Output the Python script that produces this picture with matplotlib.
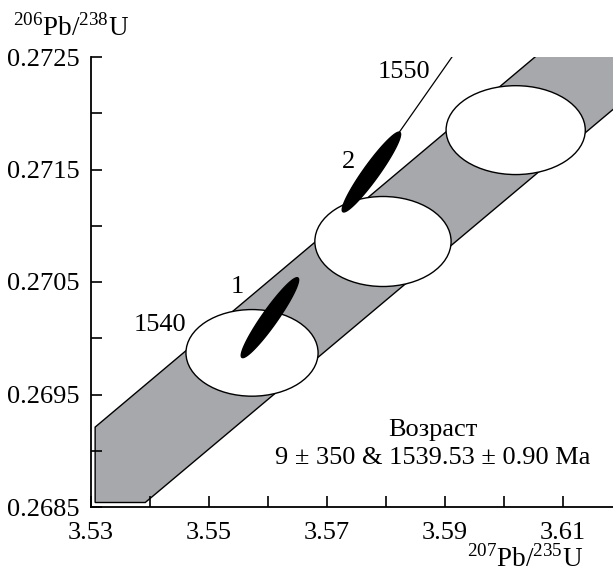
import numpy as np
import matplotlib.pyplot as plt
from matplotlib.patches import Ellipse, Polygon

plt.rcParams['font.family'] = ['Liberation Serif', 'DejaVu Serif']
plt.rcParams['mathtext.fontset'] = 'custom'
plt.rcParams['mathtext.rm'] = 'Liberation Serif'

# concordia band outline (207Pb/235U, 206Pb/238U)
band_x = [3.5307, 3.5307, 3.6250, 3.6250, 3.5392]
band_y = [0.26854, 0.26921, 0.27337, 0.27232, 0.26854]

# white ellipses on the band
age_x = [3.5573, 3.5795, 3.6020]
age_y = [0.26987, 0.27086, 0.27185]
age_w = [0.0224, 0.0231, 0.0236]
age_h = [0.00077, 0.00080, 0.00079]

# analyses 1 and 2: ends of the long axis of each error ellipse
pt_labels = ['1', '2']
pt_x0 = [3.55559, 3.57271]
pt_y0 = [0.269830, 0.271125]
pt_x1 = [3.56508, 3.58237]
pt_y1 = [0.270536, 0.271830]
pt_lab_x = [3.5548, 3.5736]
pt_lab_y = [0.27046, 0.27157]

# line above analysis 2 with its age marks
line_x = [3.57754, 3.5912]
line_y = [0.271478, 0.2725]
age_marks = ['1540', '1550']
mark_x = [3.5417, 3.5831]
mark_y = [0.27012, 0.27237]

xlim = (3.53, 3.6185)
ylim = (0.2685, 0.2725)
yticks = [0.2685, 0.2695, 0.2705, 0.2715, 0.2725]
yminor = [0.2690, 0.2700, 0.2710, 0.2720]
xticks = [3.53, 3.55, 3.57, 3.59, 3.61]
xminor = [3.54, 3.56, 3.58, 3.60]

FS = 19
W, H = 613, 575
fig = plt.figure(figsize=(W / 100, H / 100), dpi=100)
ax = fig.add_axes([91 / W, 68 / H, 522 / W, 450 / H])
ax.set_xlim(*xlim)
ax.set_ylim(*ylim)

# pixels per data unit, so the dark ellipses keep their shape
sx = 522 / (xlim[1] - xlim[0])
sy = 450 / (ylim[1] - ylim[0])

ax.add_patch(Polygon(np.column_stack([band_x, band_y]), closed=True,
                     facecolor='#a7a8ab', edgecolor='black', lw=1.0, zorder=1))

ax.plot(line_x, line_y, color='black', lw=0.9, zorder=2)

for x, y, w, h in zip(age_x, age_y, age_w, age_h):
    ax.add_patch(Ellipse((x, y), w, h, facecolor='white', edgecolor='black',
                         lw=1.0, zorder=3))

t = np.linspace(0, 2 * np.pi, 200)
for x0, y0, x1, y1 in zip(pt_x0, pt_y0, pt_x1, pt_y1):
    cx, cy = (x0 + x1) / 2, (y0 + y1) / 2
    ux, uy = (x1 - x0) / 2, (y1 - y0) / 2
    ratio = 0.16
    vx, vy = -uy * sy / sx * ratio, ux * sx / sy * ratio
    ex = cx + np.cos(t) * ux + np.sin(t) * vx
    ey = cy + np.cos(t) * uy + np.sin(t) * vy
    ax.fill(ex, ey, color='black', zorder=4)

for lab, x, y in zip(pt_labels, pt_lab_x, pt_lab_y):
    ax.text(x, y, lab, fontsize=FS, ha='center', va='center', zorder=5)
for lab, x, y in zip(age_marks, mark_x, mark_y):
    ax.text(x, y, lab, fontsize=FS, ha='center', va='center', zorder=5)

ax.text(3.588, 0.26906, 'Возраст\n9 ± 350 & 1539.53 ± 0.90 Ma', fontsize=FS,
        ha='center', va='center', linespacing=1.3, zorder=5)

for s in ['top', 'right']:
    ax.spines[s].set_visible(False)
for s in ['left', 'bottom']:
    ax.spines[s].set_linewidth(1.3)

ax.set_yticks(yticks)
ax.set_yticklabels([f'{v:.4f}' for v in yticks])
ax.set_yticks(yminor, minor=True)
ax.set_xticks(xticks)
ax.set_xticklabels([f'{v:.2f}' for v in xticks])
ax.set_xticks(xminor, minor=True)
ax.tick_params(which='both', direction='in', length=8, width=1.2)
ax.tick_params(axis='y', labelsize=FS, pad=8)
ax.tick_params(axis='x', labelsize=FS, pad=11)

fig.text(13 / W, 1 - 28 / H, r'$^{206}$Pb/$^{238}$U', fontsize=FS + 0.5,
         ha='left', va='center')
fig.text(583 / W, 1 - 559 / H, r'$^{207}$Pb/$^{235}$U', fontsize=FS + 0.5,
         ha='right', va='center')

fig.savefig('out.png', dpi=100)
